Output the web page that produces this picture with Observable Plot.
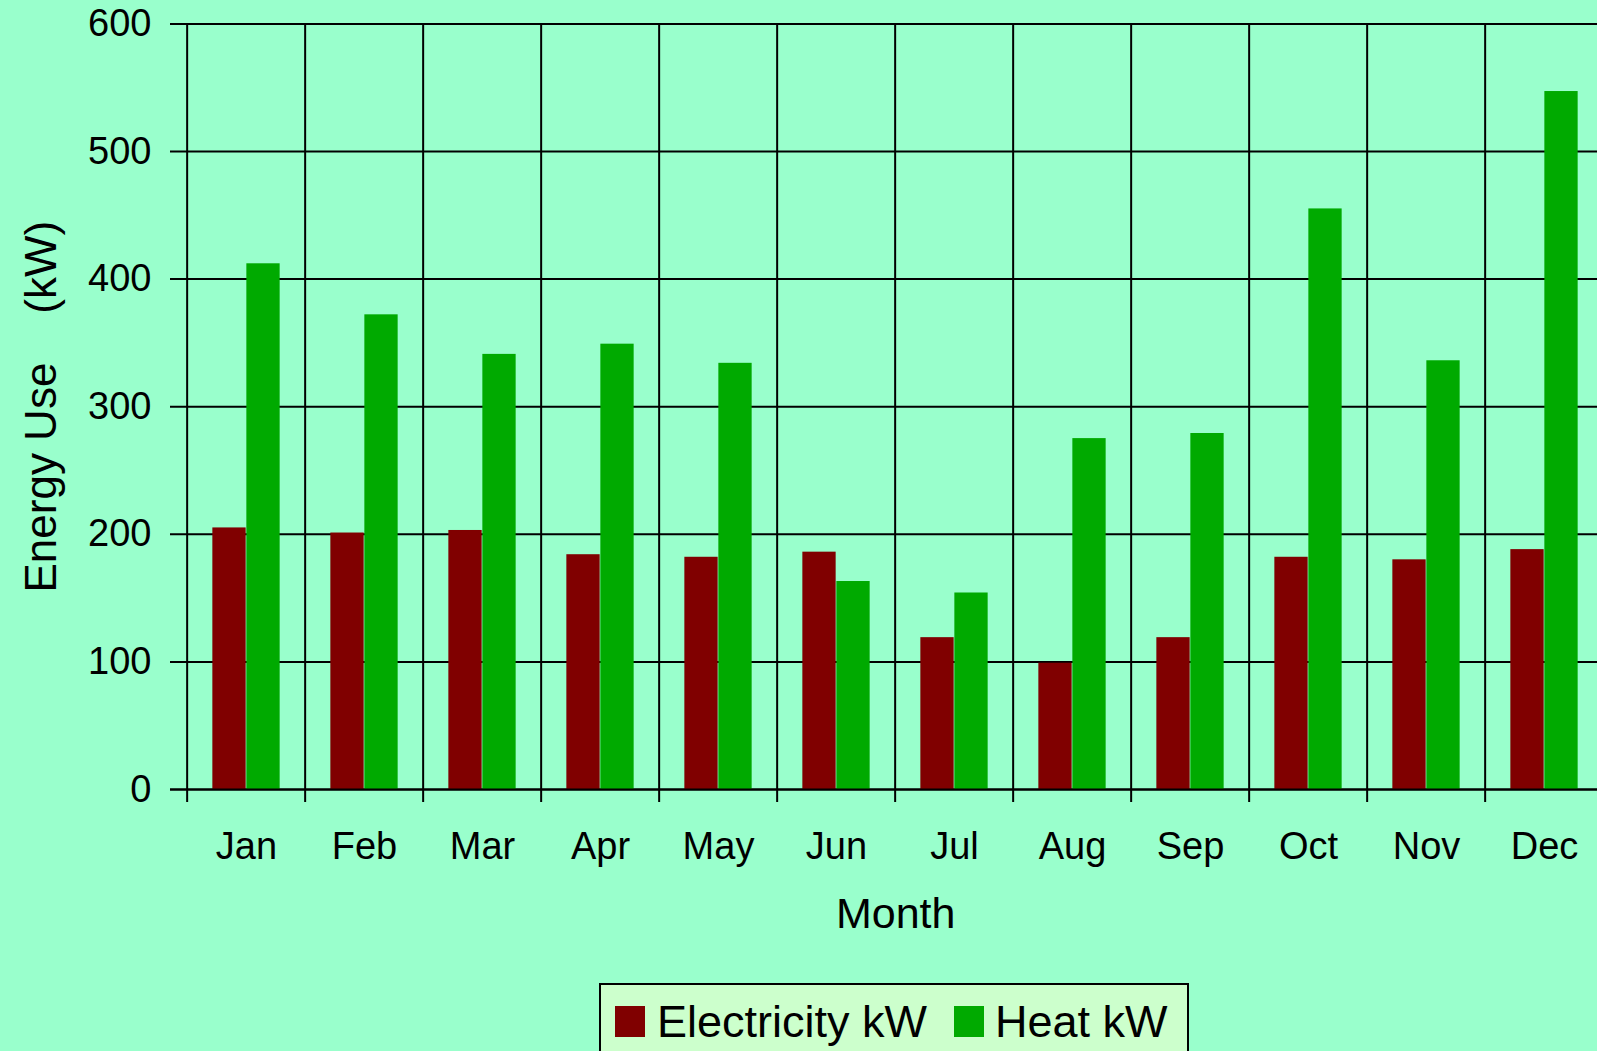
<!DOCTYPE html>
<html>
<head>
<meta charset="utf-8">
<script src="https://cdn.jsdelivr.net/npm/d3@7"></script>
<script src="https://cdn.jsdelivr.net/npm/@observablehq/plot@0.6"></script>
<style>
  html, body { margin: 0; padding: 0; background: #99ffcc; overflow: hidden; width: 1597px; height: 1051px; }
  body { font-family: "Liberation Sans", Arial, sans-serif; }
  #chart svg { display: block; }
  #legend {
    position: absolute; left: 599px; top: 983px; width: 590px; height: 120px;
    background: #ccffcc; border: 2px solid #000; box-sizing: border-box;
    display: flex; align-items: flex-start; padding: 21px 0 0 14px;
  }
  #legend .sw { width: 30px; height: 31px; flex: none; }
  #legend .lb { font-size: 45px; line-height: 31px; color: #000; white-space: nowrap; }
</style>
</head>
<body>
<div id="chart"></div>
<div id="legend"></div>
<script>
const months = ["Jan", "Feb", "Mar", "Apr", "May", "Jun", "Jul", "Aug", "Sep", "Oct", "Nov", "Dec"];
const electricity = [205, 201, 203, 184, 182, 186, 119, 99, 119, 182, 180, 188];
const heat = [412, 372, 341, 349, 334, 163, 154, 275, 279, 455, 336, 547];
const yTicks = [0, 100, 200, 300, 400, 500, 600];
const seriesNames = ["Electricity kW", "Heat kW"];
const seriesColors = ["#800000", "#00aa00"];
const xLabel = "Month";
const yLabel = "Energy Use\u00a0\u00a0\u00a0\u00a0(kW)";

const table = months.map((m, i) => ({month: m, electricity: electricity[i], heat: heat[i]}));

const W = 1597, H = 983;
const mL = 183, mR = -10.4, mT = 23.4, mB = H - 789;
const bw = (W - mR - mL) / months.length;
const barW = 34;
const outer = (bw - 2 * barW) / 2;

const chart = Plot.plot({
  width: W,
  height: H,
  marginLeft: mL,
  marginRight: mR,
  marginTop: mT,
  marginBottom: mB,
  style: {
    background: "transparent",
    fontFamily: "Liberation Sans, Arial, sans-serif",
    fontSize: "38px",
    color: "#000",
    overflow: "visible",
    maxWidth: "none"
  },
  x: {type: "band", domain: months, padding: 0, tickSize: 0, tickPadding: 43, label: null},
  y: {domain: [0, 600], ticks: 6, tickSize: 0, tickPadding: 32, label: null, tickFormat: d => String(d)},
  marks: [
    Plot.ruleY(yTicks, {y: d => d, stroke: "#000", strokeWidth: 2, insetLeft: -13}),
    Plot.ruleX(months, {x: d => d, dx: -bw / 2, stroke: "#000", strokeWidth: 2, insetBottom: -13}),
    Plot.barY(table, {x: "month", y: "electricity", fill: seriesColors[0], insetLeft: outer, insetRight: outer + barW}),
    Plot.barY(table, {x: "month", y: "heat", fill: seriesColors[1], insetLeft: outer + barW, insetRight: outer}),
    Plot.ruleY([0], {stroke: "#000", strokeWidth: 2, insetLeft: -13}),
    Plot.text([xLabel], {frameAnchor: "bottom", textAnchor: "middle", dy: 124.5, fontSize: 43, lineAnchor: "middle", fill: "#000"}),
    Plot.text([yLabel], {frameAnchor: "left", textAnchor: "middle", rotate: -90, dx: -142, fontSize: 44, lineAnchor: "middle", fill: "#000"})
  ]
});
document.getElementById("chart").appendChild(chart);

const legend = document.getElementById("legend");
const gaps = [[12, 27], [11, 0]];
seriesNames.forEach((name, i) => {
  const sw = document.createElement("div");
  sw.className = "sw";
  sw.style.background = seriesColors[i];
  sw.style.marginRight = gaps[i][0] + "px";
  const lb = document.createElement("div");
  lb.className = "lb";
  lb.textContent = name;
  lb.style.marginRight = gaps[i][1] + "px";
  legend.appendChild(sw);
  legend.appendChild(lb);
});
</script>
</body>
</html>
